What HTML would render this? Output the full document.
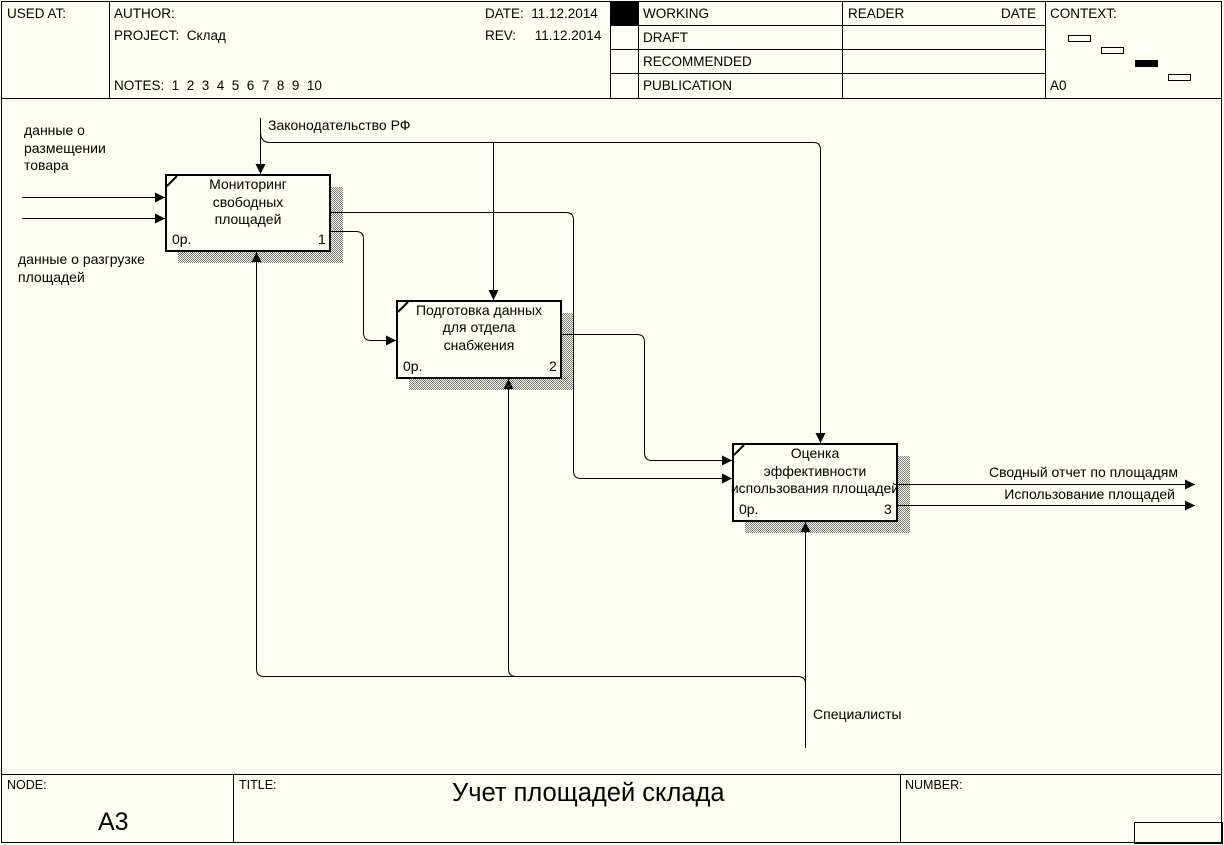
<!DOCTYPE html>
<html><head><meta charset="utf-8"><style>
html,body{margin:0;padding:0;background:#fffef2;}
svg{display:block;font-family:"Liberation Sans",Arial,sans-serif;}
text{font-size:14px;fill:#000;}
.h{font-size:13.5px;}
</style></head><body>
<svg width="1224" height="845" viewBox="0 0 1224 845" xmlns="http://www.w3.org/2000/svg">
<defs>
<pattern id="ht" width="2" height="2" patternUnits="userSpaceOnUse">
<rect width="2" height="2" fill="#fffef2"/><rect width="1" height="1" fill="#777"/><rect x="1" y="1" width="1" height="1" fill="#777"/>
</pattern>
<marker id="a" viewBox="0 0 10 10" refX="10" refY="5" markerWidth="12" markerHeight="10" markerUnits="userSpaceOnUse" orient="auto"><path d="M0,0 L10,5 L0,10z" fill="#000"/></marker>
</defs>
<rect x="0" y="0" width="1224" height="845" fill="#fffef2"/>
<g stroke="#000" fill="none" stroke-width="1">
<rect x="1.5" y="1.5" width="1220" height="841"/>
<line x1="1" y1="98.5" x2="1222" y2="98.5"/>
<line x1="109.5" y1="1" x2="109.5" y2="98"/>
<line x1="610.5" y1="1" x2="610.5" y2="98"/>
<line x1="638.5" y1="1" x2="638.5" y2="98"/>
<line x1="842.5" y1="1" x2="842.5" y2="98"/>
<line x1="1045.5" y1="1" x2="1045.5" y2="98"/>
<line x1="610" y1="25.5" x2="1045" y2="25.5"/>
<line x1="610" y1="49.5" x2="1045" y2="49.5"/>
<line x1="610" y1="73.5" x2="1045" y2="73.5"/>
<line x1="1" y1="774.5" x2="1222" y2="774.5"/>
<line x1="233.5" y1="774" x2="233.5" y2="843"/>
<line x1="900.5" y1="774" x2="900.5" y2="843"/>
<rect x="1134.5" y="822.5" width="88" height="21"/>
<rect x="1068.5" y="35.5" width="22" height="6"/>
<rect x="1101.5" y="47.5" width="22" height="6"/>
<rect x="1168.5" y="74.5" width="22" height="6"/>
</g>
<rect x="611" y="2" width="27" height="23" fill="#000"/>
<rect x="1135" y="60" width="23" height="7" fill="#000"/>
<text class="h" x="7" y="18">USED AT:</text>
<text class="h" x="114" y="18">AUTHOR:</text>
<text class="h" x="114" y="40">PROJECT:&#160; Склад</text>
<text class="h" x="114" y="90">NOTES:&#160; 1&#160; 2&#160; 3&#160; 4&#160; 5&#160; 6&#160; 7&#160; 8&#160; 9&#160; 10</text>
<text class="h" x="485" y="18">DATE:&#160; 11.12.2014</text>
<text class="h" x="485" y="40">REV:&#160;&#160;&#160;&#160; 11.12.2014</text>
<text class="h" x="643" y="18">WORKING</text>
<text class="h" x="643" y="42">DRAFT</text>
<text class="h" x="643" y="66">RECOMMENDED</text>
<text class="h" x="643" y="90">PUBLICATION</text>
<text class="h" x="848" y="18">READER</text>
<text class="h" x="1001" y="18">DATE</text>
<text class="h" x="1050" y="18">CONTEXT:</text>
<text class="h" x="1050" y="90">A0</text>
<text x="7" y="789" style="font-size:12.5px">NODE:</text>
<text x="239" y="789" style="font-size:12.5px">TITLE:</text>
<text x="905" y="789" style="font-size:12.5px">NUMBER:</text>
<text x="98" y="830" style="font-size:25px">A3</text>
<text x="452" y="801" style="font-size:25.5px">Учет площадей склада</text>

<rect x="178" y="187" width="165" height="76" fill="url(#ht)"/>
<rect x="409" y="313" width="165" height="77" fill="url(#ht)"/>
<rect x="745" y="456" width="165" height="77" fill="url(#ht)"/>
<g stroke="#000" stroke-width="2" fill="#fffef2">
<rect x="166" y="175" width="164" height="76"/>
<rect x="397" y="301" width="164" height="77"/>
<rect x="733" y="444" width="164" height="77"/>
</g>
<g stroke="#000" stroke-width="2">
<line x1="167" y1="186" x2="177" y2="176"/>
<line x1="398" y1="312" x2="408" y2="302"/>
<line x1="734" y1="455" x2="744" y2="445"/>
</g>
<g text-anchor="middle">
<text x="248" y="189">Мониторинг</text><text x="248" y="207">свободных</text><text x="248" y="224">площадей</text>
<text x="479" y="315">Подготовка данных</text><text x="479" y="332">для отдела</text><text x="479" y="350">снабжения</text>
<text x="815" y="458">Оценка</text><text x="815" y="476">эффективности</text><text x="815" y="493">использования площадей</text>
</g>
<text x="172" y="244">0р.</text><text x="318" y="244">1</text>
<text x="403" y="371">0р.</text><text x="549" y="371">2</text>
<text x="739" y="514">0р.</text><text x="884" y="514">3</text>

<g stroke="#000" stroke-width="1" fill="none">
<line x1="22" y1="197.5" x2="165" y2="197.5" marker-end="url(#a)"/>
<line x1="22" y1="218.5" x2="165" y2="218.5" marker-end="url(#a)"/>
<line x1="260.5" y1="118" x2="260.5" y2="174" marker-end="url(#a)"/>
<path d="M260.5,132 Q260.5,142.5 270,142.5 L814,142.5 Q820.5,142.5 820.5,150 L820.5,443" marker-end="url(#a)"/>
<line x1="493.5" y1="142" x2="493.5" y2="300" marker-end="url(#a)"/>
<path d="M331,212.5 L566,212.5 Q573.5,212.5 573.5,220 L573.5,471 Q573.5,478.5 581,478.5 L732,478.5" marker-end="url(#a)"/>
<path d="M331,231.5 L356,231.5 Q363.5,231.5 363.5,239 L363.5,333 Q363.5,340.5 371,340.5 L396,340.5" marker-end="url(#a)"/>
<path d="M562,334.5 L637,334.5 Q644.5,334.5 644.5,342 L644.5,453 Q644.5,460.5 652,460.5 L732,460.5" marker-end="url(#a)"/>
<line x1="898" y1="484.5" x2="1195" y2="484.5" marker-end="url(#a)"/>
<line x1="898" y1="505.5" x2="1195" y2="505.5" marker-end="url(#a)"/>
<line x1="805.5" y1="748" x2="805.5" y2="522" marker-end="url(#a)"/>
<path d="M805.5,684 Q805.5,676.5 798,676.5 L264,676.5 Q256.5,676.5 256.5,669 L256.5,252" marker-end="url(#a)"/>
<path d="M516,676.5 Q508.5,676.5 508.5,669 L508.5,379" marker-end="url(#a)"/>
</g>
<text x="268" y="130">Законодательство РФ</text>
<text x="24" y="135">данные о</text><text x="24" y="153">размещении</text><text x="24" y="170">товара</text>
<text x="18" y="264">данные о разгрузке</text><text x="18" y="282">площадей</text>
<text x="1178" y="477" text-anchor="end">Сводный отчет по площадям</text>
<text x="1175" y="499" text-anchor="end">Использование площадей</text>
<text x="813" y="719">Специалисты</text>
</svg>
</body></html>
